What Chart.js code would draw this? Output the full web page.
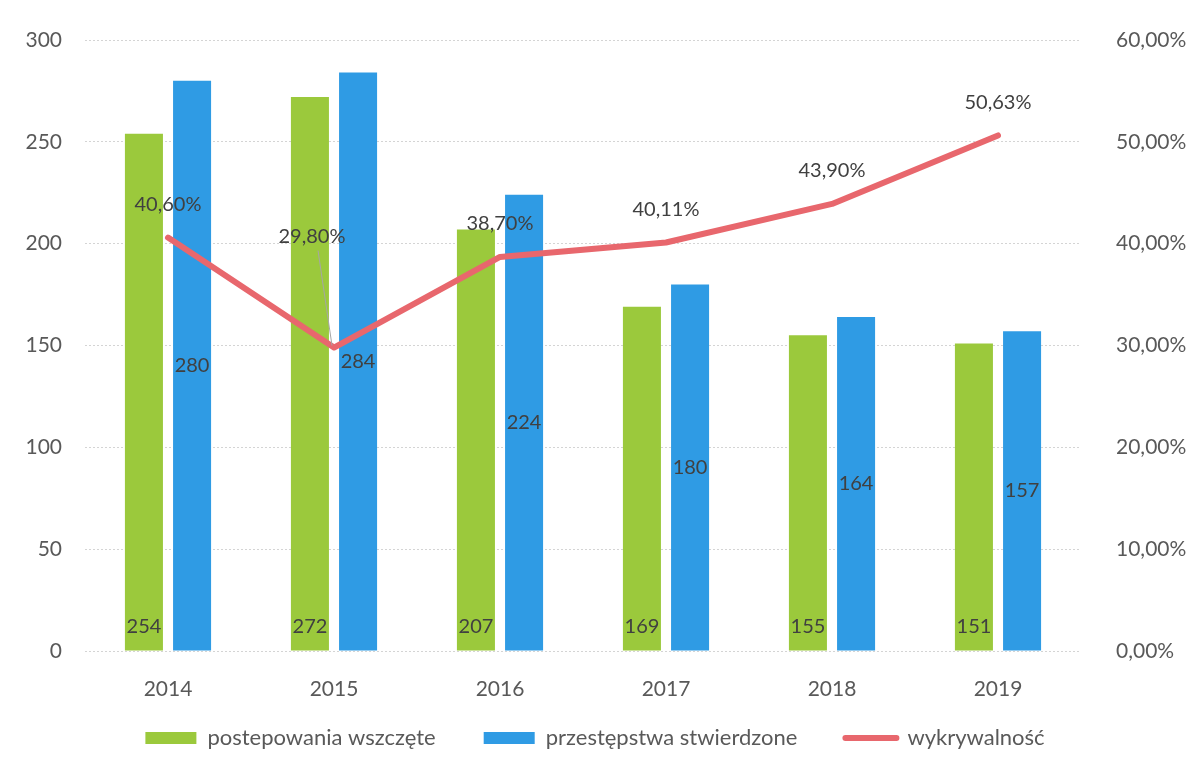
<!DOCTYPE html>
<html lang="pl">
<head>
<meta charset="utf-8">
<title>Wykrywalność 2014-2019</title>
<script src="https://cdn.jsdelivr.net/npm/chart.js@4.4.1/dist/chart.umd.min.js"></script>
<style>
  html, body { margin: 0; padding: 0; background: #fff; }
  #wrap { width: 1190px; height: 769px; position: relative; }
</style>
</head>
<body>
<div id="wrap"><canvas id="chart"></canvas></div>
<script>
"use strict";

/* ================================
   DANE
   ================================ */
const lata = ["2014", "2015", "2016", "2017", "2018", "2019"];
const wszczete = [254, 272, 207, 169, 155, 151];
const stwierdzone = [280, 284, 224, 180, 164, 157];
const wykrywalnosc = [40.60, 29.80, 38.70, 40.11, 43.90, 50.63];

/* ================================
   STYL
   ================================ */
const GREEN = "#9BC93C";
const BLUE = "#2F9BE4";
const RED = "#E8676D";
const TXT = "#404040";
const TICK = "#595959";
const FONT = "Lato";
const FS = 21;       // osie
const FS_LAB = 20;   // etykiety danych
const FS_LEG = 22;   // legenda

function pl(v, d) { return v.toFixed(d).replace(".", ","); }

// etykiety danych (bez pluginu datalabels)
const etykiety = {
  id: "etykiety",
  afterDatasetsDraw(chart) {
    const ctx = chart.ctx;
    ctx.save();
    ctx.font = FS_LAB + "px " + FONT;
    ctx.fillStyle = TXT;
    ctx.textAlign = "center";
    ctx.textBaseline = "middle";

    // zielone: przy podstawie
    chart.getDatasetMeta(0).data.forEach((el, i) => {
      ctx.fillText(String(wszczete[i]), el.x, el.base - 24);
    });
    // niebieskie: środek słupka
    chart.getDatasetMeta(1).data.forEach((el, i) => {
      ctx.fillText(String(stwierdzone[i]), el.x, (el.y + el.base) / 2);
    });
    // linia: nad punktem (2015 przesunięte z linią odniesienia)
    chart.getDatasetMeta(2).data.forEach((el, i) => {
      let dx = 0, dy = -33;
      if (i === 1) { dx = -22; dy = -111; }
      const tx = el.x + dx, ty = el.y + dy;
      if (i === 1) {
        ctx.strokeStyle = "#A6A6A6";
        ctx.lineWidth = 1;
        ctx.beginPath();
        ctx.moveTo(tx + 6, ty + 14);
        ctx.lineTo(el.x - 2, el.y - 2);
        ctx.stroke();
      }
      ctx.fillText(pl(wykrywalnosc[i], 2) + "%", tx, ty);
    });
    ctx.restore();
  }
};

// legenda bliżej osi X (padding legendy służy też za odstęp między pozycjami)
const przesunLegende = {
  id: "przesunLegende",
  afterLayout(chart) {
    const lg = chart.legend;
    if (!lg) return;
    lg.top -= 22;
    lg.bottom -= 22;
  }
};

new Chart(document.getElementById("chart").getContext("2d"), {
  type: "bar",
  data: {
    labels: lata,
    datasets: [
      {
        label: "postepowania wszczęte",
        data: wszczete,
        backgroundColor: GREEN,
        yAxisID: "y",
        order: 2,
        categoryPercentage: 0.58,
        barPercentage: 0.79
      },
      {
        label: "przestępstwa stwierdzone",
        data: stwierdzone,
        backgroundColor: BLUE,
        yAxisID: "y",
        order: 2,
        categoryPercentage: 0.58,
        barPercentage: 0.79
      },
      {
        type: "line",
        label: "wykrywalność",
        data: wykrywalnosc,
        borderColor: RED,
        backgroundColor: RED,
        borderWidth: 6,
        borderCapStyle: "round",
        borderJoinStyle: "round",
        pointRadius: 0,
        tension: 0,
        yAxisID: "y1",
        order: 1
      }
    ]
  },
  options: {
    responsive: true,
    maintainAspectRatio: false,
    animation: false,
    layout: { padding: { top: 40, bottom: -12, left: 0, right: 0 } },
    plugins: {
      tooltip: { enabled: false },
      legend: {
        position: "bottom",
        labels: {
          font: { family: FONT, size: FS_LEG },
          color: TICK,
          usePointStyle: true,
          pointStyleWidth: 51,
          boxHeight: 12,
          padding: 48,
          generateLabels(chart) {
            const items = Chart.defaults.plugins.legend.labels.generateLabels(chart);
            items.sort((a, b) => a.datasetIndex - b.datasetIndex);
            items.forEach(it => {
              const linia = it.datasetIndex === 2;
              it.pointStyle = linia ? "line" : "rect";
              it.lineWidth = linia ? 6 : 0;
              it.lineCap = "round";
              it.strokeStyle = linia ? RED : it.fillStyle;
            });
            return items;
          }
        }
      }
    },
    scales: {
      x: {
        grid: { display: false },
        border: { display: false },
        ticks: { color: TICK, font: { family: FONT, size: FS }, padding: 18 },
        afterFit(s) { s.height = 50; }
      },
      y: {
        position: "left",
        min: 0, max: 300,
        ticks: { stepSize: 50, color: TICK, font: { family: FONT, size: FS }, padding: 23 },
        grid: { color: "#D4D4D4", lineWidth: 1, drawTicks: false },
        border: { display: false, dash: [2, 2] },
        afterFit(s) { s.width = 85; }
      },
      y1: {
        position: "right",
        min: 0, max: 60,
        ticks: {
          stepSize: 10,
          color: TICK,
          font: { family: FONT, size: FS },
          padding: 27,
          callback: v => pl(v, 2) + "%"
        },
        grid: { display: false },
        border: { display: false },
        afterFit(s) { s.width = 109; }
      }
    }
  },
  plugins: [etykiety, przesunLegende]
});
</script>
</body>
</html>
